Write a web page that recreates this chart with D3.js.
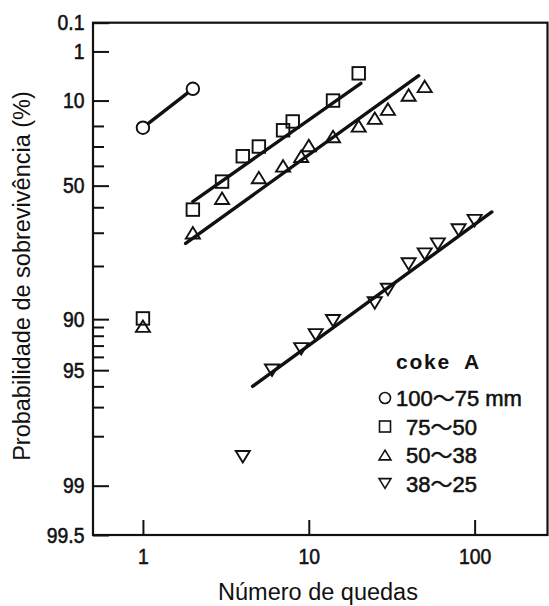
<!DOCTYPE html>
<html>
<head>
<meta charset="utf-8">
<script src="https://cdn.jsdelivr.net/npm/d3@7"></script>
<style>
  body { margin: 0; background: #fff; }
  text { font-family: "Liberation Sans", Arial, "Noto Sans CJK JP", sans-serif; fill: #111; }
  .heavy { stroke: #111; stroke-width: 0.55px; paint-order: stroke; }
</style>
</head>
<body>
<svg id="chart" width="549" height="606"></svg>
<script>
// Drop-shatter test, coke A: survival probability (%) against number of drops
const sizeClasses = ["100～75 mm", "75～50", "50～38", "38～25"];

const drops100_75 = [1, 2];
const surv100_75 = [20.8, 6.6];

const drops75_50 = [1, 2, 3, 4, 5, 7, 8, 14, 20];
const surv75_50 = [89.9, 61, 48, 35, 30, 22, 18, 10, 3.4];

const drops50_38 = [1, 2, 3, 5, 7, 9, 10, 14, 20, 25, 30, 40, 50];
const surv50_38 = [90.9, 70, 56, 46, 40, 35, 29.5, 25, 20, 16.6, 13, 8.3, 6];

const drops38_25 = [4, 6, 9, 11, 14, 25, 30, 40, 50, 60, 80, 100];
const surv38_25 = [98.5, 95, 93.3, 91.9, 90.2, 87.6, 85.2, 79.5, 76.8, 73.8, 69, 65.5];

// Fitted straight lines, given by their end points [drops, survival %]
const fit75_50 = [[2, 57.5], [20.6, 5.3]];
const fit50_38 = [[1.81, 73.6], [46, 3.8]];
const fit38_25 = [[4.58, 96], [127, 62]];

const xTickValues = [1, 10, 100];
const xDomain = [0.5, 275];
const yMajorTicks = [0.1, 1, 10, 50, 90, 95, 99, 99.5];
const yMinorTicks = [20, 30, 40, 60, 70, 80, 91, 92, 93, 94, 96, 97, 98];

// ---- layout ----
const plot = { left: 93, right: 547.5, top: 22.7, bottom: 535 };
const svg = d3.select("#chart");

// x: logarithmic number of drops
const x = d3.scaleLog().domain(xDomain).range([plot.left, plot.right]);

// y: Weibull probability paper, ln(-ln(S)), 0.1 % at top, 99.5 % at bottom
const weib = p => Math.log(-Math.log(p / 100));
const yLin = d3.scaleLinear()
  .domain([weib(yMajorTicks[0]), weib(yMajorTicks[yMajorTicks.length - 1])])
  .range([plot.top, plot.bottom]);
function makeProbScale() {
  const s = p => yLin(weib(p));
  s.copy = makeProbScale;
  s.range = () => yLin.range();
  s.domain = () => [yMajorTicks[0], yMajorTicks[yMajorTicks.length - 1]];
  return s;
}
const y = makeProbScale();

// ---- axes ----
const labelScaleX = 0.88;
const fmt = d => String(d);

const yMajor = svg.append("g")
  .attr("transform", `translate(${plot.left},0)`)
  .call(d3.axisLeft(y).tickValues(yMajorTicks).tickFormat(fmt)
    .tickSizeInner(-16).tickSizeOuter(0).tickPadding(9.7));
const yMinor = svg.append("g")
  .attr("transform", `translate(${plot.left},0)`)
  .call(d3.axisLeft(y).tickValues(yMinorTicks).tickFormat("")
    .tickSizeInner(-11).tickSizeOuter(0));
const xAxis = svg.append("g")
  .attr("transform", `translate(0,${plot.bottom})`)
  .call(d3.axisBottom(x).tickValues(xTickValues).tickFormat(fmt)
    .tickSizeInner(-15).tickSizeOuter(0).tickPadding(13));

[yMajor, yMinor, xAxis].forEach(g => {
  g.select(".domain").remove();
  g.selectAll(".tick line").attr("stroke", "#111").attr("stroke-width", 2);
  g.selectAll(".tick text")
    .attr("font-family", null).attr("font-size", null)
    .attr("class", "heavy")
    .style("font-size", "22px")
    .attr("fill", "#111");
});
yMajor.selectAll(".tick text").attr("transform", `scale(${labelScaleX},1)`);
xAxis.selectAll(".tick text").attr("transform", `scale(${labelScaleX},1)`);

// frame
svg.append("rect")
  .attr("x", plot.left).attr("y", plot.top)
  .attr("width", plot.right - plot.left).attr("height", plot.bottom - plot.top)
  .attr("fill", "none").attr("stroke", "#111").attr("stroke-width", 2.2);

// axis titles
svg.append("text")
  .attr("transform", "translate(30,276) rotate(-90)")
  .attr("text-anchor", "middle")
  .style("font-size", "23.5px")
  .text("Probabilidade de sobrevivência (%)");
svg.append("text")
  .attr("x", 318).attr("y", 600)
  .attr("text-anchor", "middle")
  .style("font-size", "23.5px")
  .text("Número de quedas");

// ---- fitted lines ----
const line = d3.line().x(d => x(d[0])).y(d => y(d[1]));
const lines = svg.append("g")
  .attr("fill", "none").attr("stroke", "#111")
  .attr("stroke-width", 3.4).attr("stroke-linecap", "round");
lines.append("path").attr("d", line(d3.zip(drops100_75, surv100_75)));
[fit75_50, fit50_38, fit38_25].forEach(f => lines.append("path").attr("d", line(f)));

// ---- markers ----
function marker(g, kind, cx, cy, s, sw) {
  const h = s / 2;
  let el;
  if (kind === "circle") {
    el = g.append("circle").attr("cx", cx).attr("cy", cy).attr("r", h).attr("fill", "#fff");
  } else if (kind === "square") {
    el = g.append("rect").attr("x", cx - h).attr("y", cy - h).attr("width", s).attr("height", s).attr("fill", "none");
  } else if (kind === "up") {
    const t = s * 0.44;
    el = g.append("path").attr("d", `M${cx},${cy - t}L${cx + h * 1.08},${cy + t}L${cx - h * 1.08},${cy + t}Z`).attr("fill", "none");
  } else {
    const t = s * 0.44;
    el = g.append("path").attr("d", `M${cx},${cy + t}L${cx + h * 1.08},${cy - t}L${cx - h * 1.08},${cy - t}Z`).attr("fill", "none");
  }
  el.attr("stroke", "#111").attr("stroke-width", sw).attr("stroke-linejoin", "miter");
}

const series = [
  { kind: "circle", n: drops100_75, p: surv100_75, size: 12.5 },
  { kind: "square", n: drops75_50, p: surv75_50, size: 12.5 },
  { kind: "up", n: drops50_38, p: surv50_38, size: 13 },
  { kind: "down", n: drops38_25, p: surv38_25, size: 13 }
];
const marks = svg.append("g");
series.forEach(sr => {
  sr.n.forEach((n, i) => marker(marks, sr.kind, x(n), y(sr.p[i]), sr.size, 1.9));
});

// ---- legend ----
const legend = svg.append("g");
legend.append("text")
  .attr("x", 396).attr("y", 369)
  .style("font-size", "21px").style("font-weight", "bold")
  .style("letter-spacing", "1.8px").style("word-spacing", "6px")
  .text("coke A");
const rowBase = [406, 434.5, 463, 491.5];
const textX = [396, 406, 406, 406];
series.forEach((sr, i) => {
  marker(legend, sr.kind, 385, rowBase[i] - 8, 11, 1.6);
  legend.append("text")
    .attr("class", "heavy")
    .attr("x", textX[i]).attr("y", rowBase[i])
    .style("font-size", "22px")
    .text(sizeClasses[i]);
});
</script>
</body>
</html>
